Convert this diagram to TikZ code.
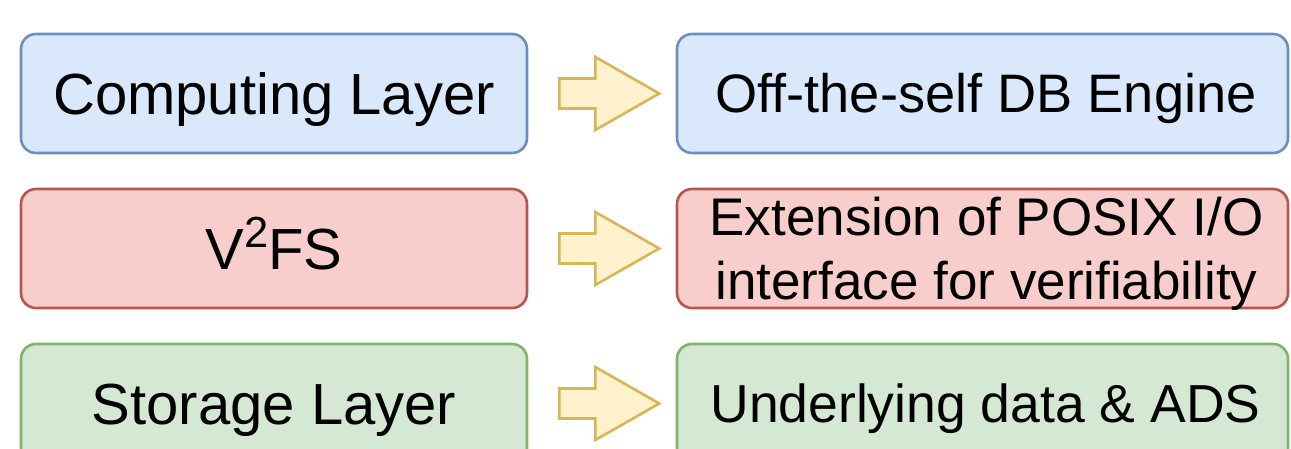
\documentclass[tikz,border=0pt]{standalone}
\usepackage{fontspec}
\setmainfont{Liberation Sans}
\usetikzlibrary{calc}

\definecolor{blueFill}{HTML}{DAE8FC}
\definecolor{blueLine}{HTML}{6C8EBF}
\definecolor{redFill}{HTML}{F8CECC}
\definecolor{redLine}{HTML}{B85450}
\definecolor{greenFill}{HTML}{D5E8D4}
\definecolor{greenLine}{HTML}{82B366}
\definecolor{yellowFill}{HTML}{FFF2CC}
\definecolor{yellowLine}{HTML}{D6B656}

\tikzset{
  layerbox/.style={rectangle, rounded corners=15pt, line width=2.6pt,
    minimum height=119pt, inner sep=0pt, align=center},
  % single-line labels: centre the capitals in the box
  leftbox/.style={layerbox, minimum width=506pt,
    font=\fontsize{58}{69.6}\selectfont, text height=41.5pt, text depth=0pt},
  rightbox/.style={layerbox, minimum width=611pt},
  rightline/.style={rightbox, font=\fontsize{53.5}{64}\selectfont,
    text height=38.3pt, text depth=0pt},
  bluebox/.style={draw=blueLine, fill=blueFill},
  redbox/.style={draw=redLine, fill=redFill},
  greenbox/.style={draw=greenLine, fill=greenFill},
  arrowstyle/.style={draw=yellowLine, fill=yellowFill, line width=2.6pt,
    line join=miter},
  blockarrow/.pic={
    \draw[arrowstyle] (0,-15) -- (36,-15) -- (36,-36.5) -- (100,0)
      -- (36,36.5) -- (36,15) -- (0,15) -- cycle;
  }
}

\begin{document}
\begin{tikzpicture}[x=1pt, y=-1pt]
  \useasboundingbox (0,0) rectangle (1291,449);
  \clip (0,0) rectangle (1291,449);

  % layer names
  \node[leftbox, bluebox]  (comp) at (274, 93.5)  {Computing Layer};
  \node[leftbox, redbox]   (vfs)  at (274, 248.5) {V\raisebox{22pt}{\fontsize{43.5}{43.5}\selectfont 2}FS};
  \node[leftbox, greenbox] (stor) at (274, 403.5) {Storage Layer};

  % what each layer is
  \node[rightline, bluebox, font=\fontsize{54.2}{65}\selectfont]
    (engine) at (982.5, 93.5) {\hspace*{7pt}Off-the-self DB Engine};
  \node[rightbox, redbox] (posix) at (982.5, 248.5) {};
  \node[font=\fontsize{53}{63.6}\selectfont, align=center, inner sep=0pt]
    (posixtext) at ($(posix.center)+(4,5)$)
    {Extension of POSIX I/O\\interface for verifiability};
  \node[rightline, greenbox] (data) at (982.5, 403.5) {\hspace*{6pt}Underlying data \& ADS};

  % block arrows between the columns
  \pic at ($(comp.east)+(31,0)$) {blockarrow};
  \pic at ($(vfs.east)+(31,0)$)  {blockarrow};
  \pic at ($(stor.east)+(31,0)$) {blockarrow};
\end{tikzpicture}
\end{document}
